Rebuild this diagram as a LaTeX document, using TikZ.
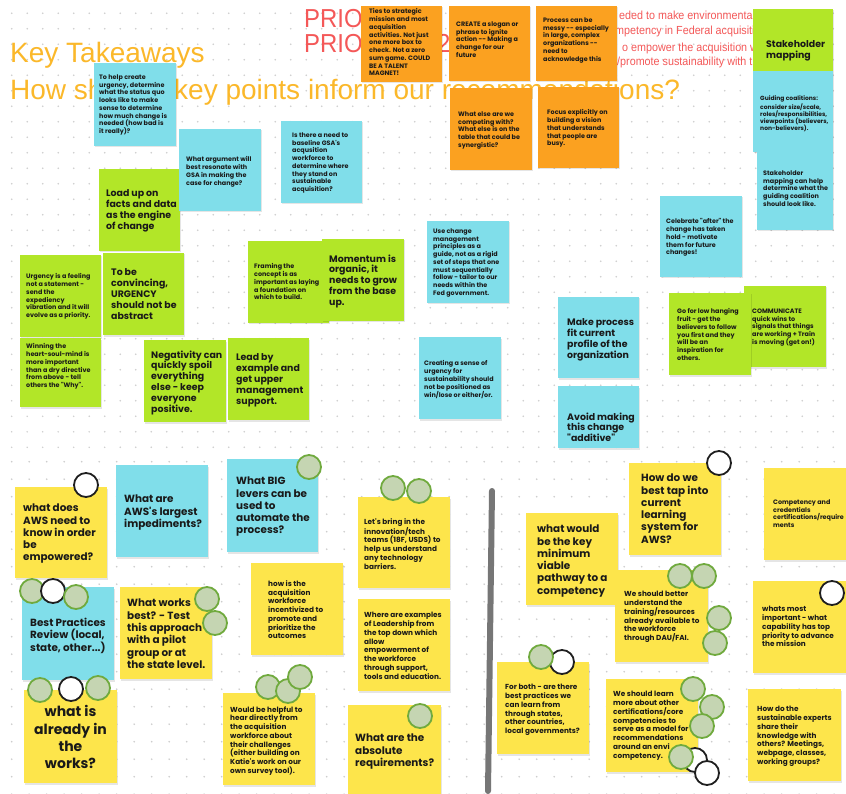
\documentclass[tikz,border=0pt]{standalone}
\usepackage{fontspec}
\usepackage{graphicx}
\newfontfamily\pop{Poppins}
\newfontfamily\lib{Liberation Sans}
\definecolor{cyanN}{RGB}{128,222,234}
\definecolor{limeN}{RGB}{178,230,40}
\definecolor{orangeN}{RGB}{251,161,32}
\definecolor{yellowN}{RGB}{253,229,75}
\definecolor{gfill}{RGB}{197,213,178}
\definecolor{gedge}{RGB}{112,170,62}
\definecolor{txt}{RGB}{25,25,25}
\definecolor{gold}{RGB}{251,184,42}
\definecolor{redT}{RGB}{244,88,88}
\definecolor{dotc}{RGB}{205,205,205}
\definecolor{divc}{RGB}{118,118,118}
\newcommand\stick[6]{%
  \fill[black,opacity=0.10,xshift=0.5pt,yshift=-1.5pt] (#3,#4) rectangle (#5,#6);
  \fill[#2] (#3,#4) rectangle (#5,#6);
  \coordinate (#1) at (#3,#4);}
\begin{document}
\begin{tikzpicture}[x=1pt,y=-1pt,
  tS/.style={font=\pop\bfseries\fontsize{6.4}{7.75}\selectfont, align=left, inner sep=0pt, anchor=north west, text=txt},
  tSS/.style={font=\pop\bfseries\fontsize{6.0}{7.2}\selectfont, align=left, inner sep=0pt, anchor=north west, text=txt},
  tM/.style={font=\pop\bfseries\fontsize{7.3}{8.75}\selectfont, align=left, inner sep=0pt, anchor=north west, text=txt},
  tL/.style={font=\pop\bfseries\fontsize{9.4}{10.9}\selectfont, align=left, inner sep=0pt, anchor=north west, text=txt},
  tXL/.style={font=\pop\bfseries\fontsize{10.4}{12.3}\selectfont, align=left, inner sep=0pt, anchor=north west, text=txt},
  tXXL/.style={font=\pop\bfseries\fontsize{14}{17.3}\selectfont, align=center, inner sep=0pt, anchor=north, text=txt},
  gcirc/.style={circle, draw=gedge, fill=gfill, line width=1.8pt, minimum size=24pt, inner sep=0pt},
  wcirc/.style={circle, draw=black!88, fill=white, line width=1.8pt, minimum size=24pt, inner sep=0pt},
  titlef/.style={font=\lib\fontsize{28}{30}\selectfont, text=gold, inner sep=0pt, anchor=base west},
  priof/.style={font=\lib\fontsize{26}{28}\selectfont, text=redT, inner sep=0pt, anchor=base west},
  reds/.style={font=\lib\fontsize{11.7}{14}\selectfont, text=redT, inner sep=0pt, anchor=base west}
]
\fill[white] (0,0) rectangle (846,794);
\useasboundingbox (0,0) rectangle (846,794);
% dot grids
\foreach \i in {0,...,54}{\foreach \j in {0,...,28}{\fill[dotc] (11.7+15.5*\i,13.3+15.5*\j) circle (0.85pt);}}
\foreach \i in {0,...,48}{\foreach \j in {0,...,19}{\fill[dotc] (11.7+17.5*\i,461.7+17.5*\j) circle (0.95pt);}}

% background texts
\node[priof] (p1) at (304,27.5) {\scalebox{0.92}[1]{PRIO}};
\node[priof] (p2) at (304,52.5) {\scalebox{0.92}[1]{PRIO}};
\node[priof] (p2b) at (437,52.5) {\scalebox{0.92}[1]{2}};
\node[reds] (r1) at (619,19.5) {\scalebox{0.92}[1]{eded to make environmental a}};
\node[reds] (r2) at (615,34.5) {\scalebox{0.92}[1]{mpetency in Federal acquisition}};
\node[reds] (r3) at (622,52) {\scalebox{0.92}[1]{o empower the acquisition w}};
\node[reds] (r4) at (617,66) {\scalebox{0.92}[1]{/promote sustainability with th}};
\node[titlef] (ttl1) at (10,63) {Key Takeaways};
\node[titlef] (ttl2a) at (10,100) {How sh};
\node[titlef] (ttl2b) at (174,100) {key points inform our recommendations?};

% divider
\draw[divc, line width=6pt, line cap=round] (492,491) -- (488,791);

% ---------- top frame notes ----------
\stick{n1}{cyanN}{94}{63}{176}{146}
\node[tS] (t1) at (99,74.5) {To help create\\urgency, determine\\what the status quo\\looks like to make\\sense to determine\\how much change is\\needed (how bad is\\it really)?};
\stick{n3}{limeN}{99}{169}{180}{251}
\node[tL] (t3) at (106,189.3) {Load up on\\facts and data\\as the engine\\of change};
\stick{n2}{cyanN}{179}{129}{261}{211}
\node[tS] (t2) at (186,156.5) {What argument will\\best resonate with\\GSA in making the\\case for change?};
\stick{n4}{cyanN}{281}{121}{362}{203}
\node[tS] (t4) at (292,132.5) {Is there a need to\\baseline GSA's\\acqusition\\workforce to\\determine where\\they stand on\\sustainable\\acquisition?};
\stick{n5}{orangeN}{361}{6}{442}{82}
\node[tS] (t5) at (369,8.5) {Ties to strategic\\mission and most\\acquisition\\activities. Not just\\one more box to\\check. Not a zero\\sum game. COULD\\BE A TALENT\\MAGNET!};
\stick{n6}{orangeN}{449}{6}{530}{81}
\node[tS] (t6) at (456,21.5) {CREATE a slogan or\\phrase to ignite\\action -{}- Making a\\change for our\\future};
\stick{n7}{orangeN}{536}{6}{617}{81}
\node[tS] (t7) at (543,17.5) {Process can be\\messy -{}- especially\\in large, complex\\organizations -{}-\\need to\\acknowledge this};
\stick{n8}{orangeN}{450}{88}{532}{170}
\node[tS] (t8) at (458,111.5) {What else are we\\competing with?\\What else is on the\\table that could be\\synergistic?};
\stick{n9}{orangeN}{538}{87}{619}{168}
\node[tS] (t9) at (547,109.5) {Focus explicitly on\\building a vision\\that understands\\that people are\\busy.};
\stick{n10}{limeN}{753}{9}{833}{71}
\node[tL] (t10) at (766,40.3) {Stakeholder\\mapping};
\stick{n11}{cyanN}{753}{71}{833}{152}
\node[tSS] (t11) at (760,95.7) {Guiding coalitions:\\consider size/scale,\\roles/responsibilities,\\viewpoints (believers,\\non-believers).};
\stick{n12}{cyanN}{757}{152}{833}{230}
\node[tS] (t12) at (763,170.5) {Stakeholder\\mapping can help\\determine what the\\guiding coalition\\should look like.};
\stick{n13}{limeN}{20}{255}{101}{337}
\node[tS] (t13) at (26,273.5) {Urgency is a feeling\\not a statement -\\send the\\expediency\\vibration and it will\\evolve as a priority.};
\stick{n14}{limeN}{20}{338}{101}{407}
\node[tS] (t14) at (26,343.5) {Winning the\\heart-soul-mind is\\more important\\than a dry directive\\from above - tell\\others the "Why".};
\stick{n15}{limeN}{103}{253}{184}{335}
\node[tL] (t15) at (111,268.3) {To be\\convincing,\\URGENCY\\should not be\\abstract};
\stick{n16}{limeN}{144}{340}{226}{422}
\node[tL] (t16) at (151,350.3) {Negativity can\\quickly spoil\\everything\\else - keep\\everyone\\positive.};
\stick{n17}{limeN}{228}{338}{309}{420}
\node[tL] (t17) at (236,353.3) {Lead by\\example and\\get upper\\management\\support.};
\stick{n18}{limeN}{248}{241}{329}{323}
\node[tS] (t18) at (254,263.5) {Framing the\\concept is as\\important as laying\\a foundation on\\which to build.};
\stick{n19}{limeN}{322}{239}{404}{321}
\node[tL] (t19) at (329,254.3) {Momentum is\\organic, it\\needs to grow\\from the base\\up.};
\stick{n20}{cyanN}{427}{221}{509}{303}
\node[tS] (t20) at (433,228.5) {Use change\\management\\principles as a\\guide, not as a rigid\\set of steps that one\\must sequentially\\follow - tailor to our\\needs within the\\Fed government.};
\stick{n21}{cyanN}{419}{337}{501}{419}
\node[tS] (t21) at (424,360.5) {Creating a sense of\\urgency for\\sustainability should\\not be positioned as\\win/lose or either/or.};
\stick{n22}{cyanN}{558}{297}{639}{378}
\node[tL] (t22) at (567,318.3) {Make process\\fit current\\profile of the\\organization};
\stick{n23}{cyanN}{558}{386}{639}{448}
\node[tL] (t23) at (567,412.3) {Avoid making\\this change\\"additive"};
\stick{n24}{cyanN}{660}{196}{742}{277}
\node[tS] (t24) at (666,218.5) {Celebrate "after" the\\change has taken\\hold - motivate\\them for future\\changes!};
\stick{n26}{limeN}{744}{286}{826}{367}
\node[tS] (t26) at (752,308.5) {COMMUNICATE\\quick wins to\\signals that things\\are working + Train\\is moving (get on!)};
\stick{n25}{limeN}{669}{293}{751}{375}
\node[tS] (t25) at (677,308.5) {Go for low hanging\\fruit - get the\\believers to follow\\you first and they\\will be an\\inspiration for\\others.};

% ---------- bottom frame notes ----------
\stick{n27}{yellowN}{15}{487}{107}{578}
\node[tXL] (t27) at (23,503.9) {what does\\AWS need to\\know in order\\be\\empowered?};
\node[wcirc] (c27) at (86,485) {};
\stick{n28}{cyanN}{116}{465}{208}{557}
\node[tXL] (t28) at (124,494.9) {What are\\AWS's largest\\impediments?};
\stick{n29}{cyanN}{227}{459}{318}{552}
\node[tXL] (t29) at (236,476.9) {What BIG\\levers can be\\used to\\automate the\\process?};
\node[gcirc] (c29) at (309,467) {};
\stick{n30}{yellowN}{251}{563}{343}{655}
\node[tM] (t30) at (268,580.2) {how is the\\acquisition\\workforce\\incentivized to\\promote and\\prioritize the\\outcomes};
\stick{n31}{yellowN}{358}{497}{450}{588}
\node[tM] (t31) at (364,518.2) {Let's bring in the\\innovation/tech\\teams (18F, USDS) to\\help us understand\\any technology\\barriers.};
\node[gcirc] (c31a) at (393,488) {};
\node[gcirc] (c31b) at (419,491) {};
\stick{n32}{yellowN}{358}{599}{450}{691}
\node[tM] (t32) at (364,612.2) {Where are examples\\of Leadership from\\the top down which\\allow\\empowerment of\\the workforce\\through support,\\tools and education.};
\stick{n33}{yellowN}{526}{513}{618}{605}
\node[tXL] (t33) at (537,524.9) {what would\\be the key\\minimum\\viable\\pathway to a\\competency};
\stick{n34}{yellowN}{629}{463}{721}{555}
\node[tXL] (t34) at (641,473.9) {How do we\\best tap into\\current\\learning\\system for\\AWS?};
\node[wcirc] (c34) at (719,463) {};
\stick{n35}{yellowN}{764}{468}{848}{560}
\node[tS] (t35) at (773,499.5) {Competency and\\credentials\\certifications/require\\ments};
\stick{n36}{yellowN}{615}{570}{708}{662}
\node[tM] (t36) at (624,591.2) {We should better\\understand the\\training/resources\\already available to\\the workforce\\through DAU/FAI.};
\node[gcirc] (c36a) at (680,576) {};
\node[gcirc] (c36b) at (704,576) {};
\node[gcirc] (c36c) at (719,618) {};
\node[gcirc] (c36d) at (715,643) {};
\stick{n37}{yellowN}{753}{581}{846}{673}
\node[tM] (t37) at (762,606.2) {whats most\\important - what\\capability has top\\priority to advance\\the mission};
\node[wcirc] (c37) at (832,593) {};
\stick{n38}{cyanN}{22}{587}{114}{680}
\node[tXL] (t38) at (30,617.9) {Best Practices\\Review (local,\\state, other...)};
\node[gcirc] (c38a) at (32,591) {};
\node[wcirc] (c38b) at (53,591) {};
\node[gcirc] (c38c) at (76,597) {};
\stick{n39}{yellowN}{120}{587}{212}{679}
\node[tXL] (t39) at (127,598.9) {What works\\best? - Test\\this approach\\with a pilot\\group or at\\the state level.};
\node[gcirc] (c39a) at (207,599) {};
\node[gcirc] (c39b) at (215,623) {};
\stick{n40}{yellowN}{24}{690}{117}{783}
\node[tXXL] (t40) at (70.5,705.5) {what is\\already in\\the\\works?};
\node[gcirc] (c40a) at (40,690) {};
\node[wcirc] (c40b) at (71,689) {};
\node[gcirc] (c40c) at (98,688) {};
\stick{n41}{yellowN}{223}{693}{315}{785}
\node[tM] (t41) at (230,706.2) {Would be helpful to\\hear directly from\\the acquisition\\workforce about\\their challenges\\(either building on\\Katie's work on our\\own survey tool).};
\node[gcirc] (c41a) at (268,687) {};
\node[gcirc] (c41b) at (288,691) {};
\node[gcirc] (c41c) at (300,677) {};
\stick{n42}{yellowN}{348}{705}{441}{796}
\node[tXL] (t42) at (355,733.9) {What are the\\absolute\\requirements?};
\node[gcirc] (c42) at (420,716) {};
\stick{n43}{yellowN}{497}{662}{589}{754}
\node[tM] (t43) at (505,684.2) {For both - are there\\best practices we\\can learn from\\through states,\\other countries,\\local governments?};
\node[wcirc] (c43b) at (562,662) {};
\node[gcirc] (c43a) at (541,657) {};
\stick{n44}{yellowN}{606}{679}{698}{772}
\node[tM] (t44) at (613,691.2) {We should learn\\more about other\\certifications/core\\competencies to\\serve as a model for\\recommendations\\around an envi\\competency.};
\node[gcirc] (c44a) at (693,689) {};
\node[gcirc] (c44b) at (712,707) {};
\node[gcirc] (c44c) at (702,726) {};
\node[wcirc] (c44e) at (695,760) {};
\node[gcirc] (c44d) at (681,757) {};
\node[wcirc] (c44f) at (707,773) {};
\stick{n45}{yellowN}{748}{689}{841}{781}
\node[tM] (t45) at (757,706.2) {How do the\\sustainable experts\\share their\\knowledge with\\others?  Meetings,\\webpage, classes,\\working groups?};
\end{tikzpicture}
\end{document}
